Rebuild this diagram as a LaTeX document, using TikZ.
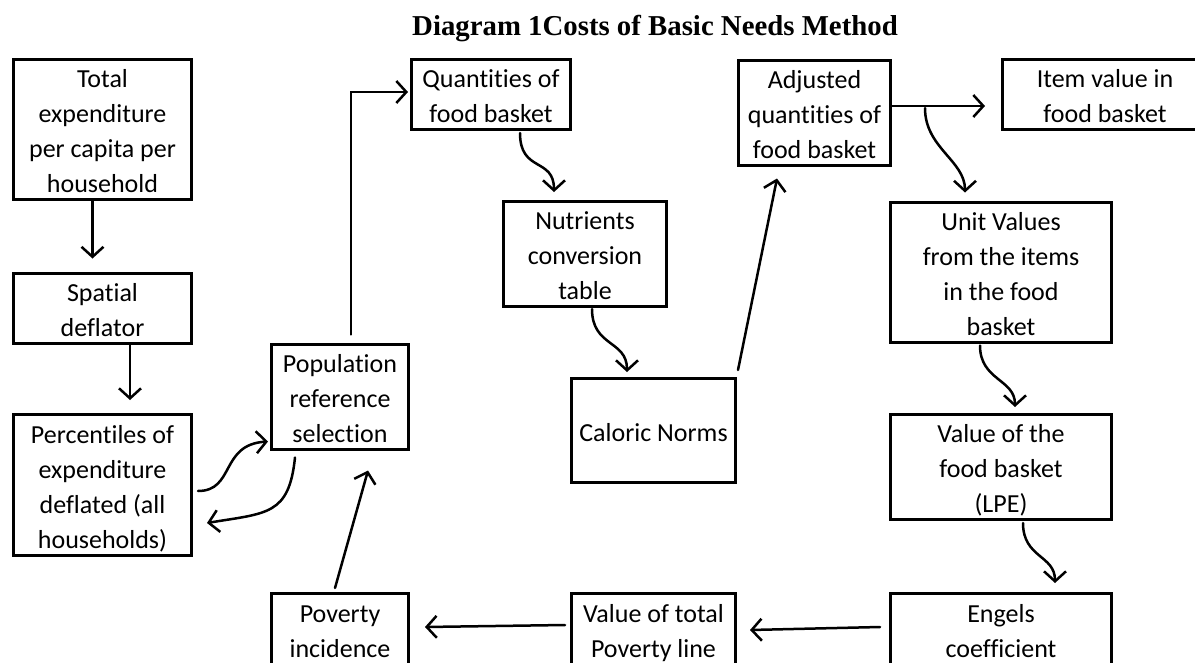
\documentclass[tikz,border=0pt]{standalone}
\usepackage{fontspec}
\setmainfont[Ligatures=NoCommon]{Carlito}
\newfontfamily\titlefont{Liberation Serif}
\usetikzlibrary{arrows.meta}
\newcommand\ts{\rule{0pt}{28pt}}
\newcommand\bs{\rule[-7pt]{0pt}{7pt}}
\begin{document}
\begin{tikzpicture}[x=1pt,y=-1pt,
  box/.style={draw,line width=3pt,inner sep=0pt,align=center,
    font=\fontsize{26}{35}\selectfont},
  conn/.style={line width=2.5pt,line cap=round,
    -{Straight Barb[length=10pt,width=22pt,line width=2.5pt]}}]
\useasboundingbox (0,0) rectangle (1195,662);
\fill[white] (0,0) rectangle (1195,662);
\clip (0,0) rectangle (1195,662);

\node[anchor=base,font=\titlefont\bfseries\fontsize{28.8}{32}\selectfont] (title) at (655,35) {Diagram 1Costs of Basic Needs Method};

\node[box,minimum width=178pt,minimum height=138pt] (tot) at (102.5,129.5) {\ts Total\\expenditure\\per capita per\\household\bs};
\node[box,minimum width=178pt,minimum height=67pt] (spa) at (102.5,308) {\ts Spatial\\deflator\bs};
\node[box,minimum width=178pt,minimum height=141pt] (pct) at (102.5,485) {\ts Percentiles of\\expenditure\\deflated (all\\households)\bs};
\node[box,minimum width=137pt,minimum height=104pt] (pop) at (340,396.5) {\ts Population\\reference\\selection\bs};
\node[box,minimum width=137pt,minimum height=71pt] (pov) at (340,629) {\ts Poverty\\incidence\bs};
\node[box,minimum width=159pt,minimum height=68pt] (qty) at (491,94.5) {\ts Quantities of\\food basket\bs};
\node[box,minimum width=163pt,minimum height=103pt] (nut) at (585,254) {\ts Nutrients\\conversion\\table\bs};
\node[box,minimum width=164pt,minimum height=104pt] (cal) at (653.5,430.5) {\ts Caloric Norms\bs};
\node[box,minimum width=152pt,minimum height=104pt] (adj) at (814.5,112.5) {\ts Adjusted\\quantities of\\food basket\bs};
\node[box,minimum width=205pt,minimum height=68pt] (item) at (1105,94.5) {\ts Item value in\\food basket\bs};
\node[box,minimum width=221pt,minimum height=139pt] (unit) at (1001,272) {\ts Unit Values\\from the items\\in the food\\basket\bs};
\node[box,minimum width=221pt,minimum height=105pt] (val) at (1001,467) {\ts Value of the\\food basket\\(LPE)\bs};
\node[box,minimum width=221pt,minimum height=71pt] (eng) at (1001,629) {\ts Engels\\coefficient\bs};
\node[box,minimum width=164pt,minimum height=71pt] (tpl) at (653.5,629) {\ts Value of total\\Poverty line\bs};

\draw[conn] ([xshift=-10pt]tot.south) -- ([xshift=-10pt,yshift=13pt]spa.north);
\draw[conn] ([xshift=27.5pt]spa.south) -- ([xshift=27.5pt,yshift=13pt]pct.north);
\draw[conn] ([xshift=5pt,yshift=-6pt]pct.east) .. controls +(37,0) and +(-48,3) .. ([xshift=-2pt,yshift=9pt]pop.south west);
\draw[conn] ([xshift=-45pt,yshift=-7pt]pop.south) .. controls +(-6,58) and +(60,-10) .. ([xshift=14pt,yshift=-38pt]pct.east);
\draw[conn] ([xshift=-5pt,yshift=4pt]pov.north) -- ([xshift=28pt,yshift=-20pt]pop.south);
\draw[conn] ([xshift=11pt,yshift=8pt]pop.north) |- ([xshift=-2pt,yshift=2.5pt]qty.west);
\draw[conn] ([xshift=29pt,yshift=-2pt]qty.south) .. controls +(0,40) and +(0,-35) .. ([xshift=-31pt,yshift=8pt]nut.north);
\draw[conn] ([xshift=7pt,yshift=-1pt]nut.south) .. controls +(0,38) and +(0,-32) .. ([xshift=-26.5pt,yshift=5pt]cal.north);
\draw[conn] ([xshift=1pt,yshift=7pt]cal.north east) -- ([xshift=-37.5pt,yshift=-12pt]adj.south);
\draw[conn] ([yshift=6.5pt]adj.east) -- ([xshift=-16pt,yshift=-11.5pt]item.west);
\draw[conn] ([xshift=33pt,yshift=4.5pt]adj.east) .. controls +(0,40) and +(0,-32) .. ([xshift=-36pt,yshift=8pt]unit.north);
\draw[conn] ([xshift=-21pt,yshift=-2pt]unit.south) .. controls +(0,35) and +(0,-28) .. ([xshift=14pt,yshift=6pt]val.north);
\draw[conn] ([xshift=22pt,yshift=-2pt]val.south) .. controls +(0,35) and +(0,-28) .. ([xshift=54pt,yshift=9pt]eng.north);
\draw[conn] ([xshift=-9pt,yshift=2pt]eng.west) -- ([xshift=13pt,yshift=-1pt]tpl.east);
\draw[conn] ([xshift=-5pt,yshift=4pt]tpl.west) -- ([xshift=15pt,yshift=2pt]pov.east);
\end{tikzpicture}
\end{document}
